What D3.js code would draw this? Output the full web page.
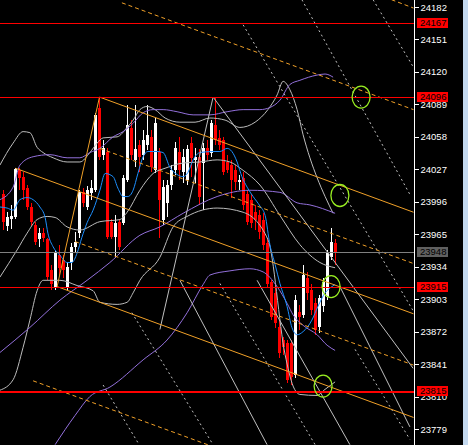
<!DOCTYPE html>
<html><head><meta charset="utf-8">
<script src="https://cdn.jsdelivr.net/npm/d3@7"></script>
<style>html,body{margin:0;padding:0;background:#000;overflow:hidden}</style>
</head><body>
<svg id="chart" width="468" height="445"></svg>
<script>
// OHLC bars, oldest first
const opens  = [24003,23973,23980,23981,24026,24020,24009,23991,23974,23960,23966,23960,23931,23915,23945,23940,23915,23938,23953,23966,
                24005,23991,24004,24007,24086,24041,24044,23977,23962,23977,23976,24017,24066,24036,24050,24041,24050,24058,24026,24044,
                23979,23995,24012,24026,24044,24024,24017,24052,24036,24039,24033,24047,24043,24069,24057,24055,24034,24031,24026,24015,
                24019,24003,23998,23986,23983,23979,23957,23919,23909,23876,23864,23861,23861,23831,23891,23888,23923,23912,23899,23876,
                23896,23905,23943,23957];
const highs  = [24007,23986,23993,24028,24028,24024,24012,23995,23977,23971,23971,23961,23936,23950,23955,23945,23938,23957,23967,24007,
                24009,24011,24017,24081,24096,24055,24047,23980,23983,23980,24022,24088,24074,24088,24055,24065,24088,24065,24076,24047,
                24017,24017,24031,24053,24058,24046,24050,24058,24047,24046,24052,24055,24074,24096,24065,24058,24041,24036,24031,24022,
                24024,24007,24003,23993,23988,23985,23961,23921,23917,23883,23867,23864,23864,23907,23897,23936,23929,23917,23904,23907,
                23923,23950,23971,23960];
const lows   = [23969,23968,23970,23980,24007,23998,23988,23973,23955,23953,23958,23921,23912,23912,23926,23923,23912,23931,23947,23961,
                23991,23988,23998,24005,24036,24036,23960,23960,23942,23950,23974,24015,24036,24029,24024,24036,24045,24024,24023,23961,
                23974,23981,24007,24022,24017,24014,24012,24020,24014,23993,23988,24036,24039,24050,24045,24022,24023,24000,24007,24007,
                23988,23974,23971,23969,23960,23950,23914,23883,23875,23847,23850,23823,23821,23828,23874,23885,23902,23888,23869,23871,
                23891,23902,23940,23936];
const closes = [23977,23981,23982,24027,24019,24007,23991,23977,23958,23966,23961,23924,23917,23947,23933,23931,23934,23953,23958,24005,
                23995,24007,24009,24079,24039,24047,23962,23962,23976,23953,24019,24069,24041,24046,24039,24055,24060,24029,24071,23998,
                24010,24012,24026,24047,24026,24039,24046,24038,24039,24001,24047,24041,24071,24055,24050,24024,24026,24017,24015,24017,
                23993,23977,23976,23979,23967,23955,23917,23886,23880,23852,23857,23826,23829,23902,23886,23926,23909,23893,23874,23904,
                23919,23947,23958,23948];

// price axis ticks
const tickLabels = [24182,24151,24120,24089,24058,24027,23996,23965,23934,23903,23872,23841,23810,23779];
// horizontal price levels
const levelPrices = [24167,24096,23915,23815];

// indicator curves as [bar, price]
const fastMA = [[-0.9,23991],[0.9,23990],[2.4,23988],[4.1,23998],[5.9,24000],[7.4,23998],[9.1,23991],[10.4,23981],[11.1,23966],
  [12.4,23953],[14.1,23945],[15.9,23938],[17.1,23938],[18.4,23947],[19.6,23962],[20.9,23976],[22.4,23988],[24.1,24007],[25.4,24023],
  [27.4,24020],[28.6,24009],[29.9,24001],[31.1,24001],[32.4,24007],[33.6,24023],[34.9,24039],[36.1,24044],[38.4,24044],[39.9,24043],
  [41.6,24029],[43.4,24022],[44.9,24020],[46.1,24024],[47.4,24036],[49.1,24043],[52.4,24044],[54.1,24044],[55.9,24047],[57.1,24044],
  [58.4,24034],[59.6,24020],[60.9,24010],[62.4,24001],[64.1,23992],[65.4,23983],[66.6,23955],[67.9,23936],[69.1,23918],[70.9,23896],
  [72.1,23876],[73.4,23869],[74.9,23872],[77.1,23883],[78.6,23896],[80.4,23909],[82.1,23915],[82.9,23917]];
const envUpper = [[-0.9,23998],[2.4,24010],[4.1,24031],[7.4,24039],[11.6,24041],[15.9,24038],[19.1,24038],[21.6,24043],[24.1,24047],
  [27.4,24058],[29.9,24063],[32.4,24071],[34.9,24081],[37.4,24084],[39.9,24084],[43.4,24082],[47.4,24079],[51.6,24079],[55.9,24082],
  [59.9,24084],[64.1,24084],[66.6,24086],[69.1,24093],[71.6,24108],[74.1,24112],[78.4,24117],[80.4,24118],[82.4,24115]];
const envMiddle = [[-0.9,23852],[6.6,23876],[14.1,23902],[20.9,23921],[26.6,23938],[34.1,23964],[39.1,23972],[44.9,23985],[53.4,24001],
  [61.6,24007],[69.1,24005],[73.4,23995],[76.6,23993],[82.9,23985]];
const envLower = [[12.9,23764],[17.9,23792],[21.6,23810],[26.6,23819],[34.9,23845],[40.9,23864],[45.9,23890],[49.9,23917],[51.6,23926],
  [56.6,23930],[61.6,23932],[64.9,23929],[68.4,23915],[70.9,23899],[72.4,23888],[74.9,23878],[78.4,23869],[80.9,23859],[82.9,23854]];
const bandUpper = [[-0.9,24031],[2.4,24052],[4.9,24063],[6.6,24062],[8.4,24048],[9.9,24043],[12.4,24038],[15.9,24034],[19.1,24034],
  [21.6,24043],[23.4,24052],[24.9,24057],[28.4,24058],[30.9,24067],[32.4,24074],[34.1,24084],[35.9,24087],[37.9,24084],[40.4,24076],
  [44.1,24072],[47.9,24072],[51.6,24076],[55.4,24074],[59.1,24067],[62.9,24072],[66.1,24084],[68.4,24098],[69.9,24111],[71.6,24103],
  [73.4,24084],[74.9,24060],[76.6,24038],[78.4,24019],[80.4,24001],[82.4,23985]];
const bandMiddle = [[-0.9,23924],[3.4,23950],[5.9,23966],[8.4,23979],[10.9,23982],[12.9,23981],[15.9,23972],[19.1,23969],[24.1,23977],
  [29.1,23979],[30.9,23986],[34.1,24007],[37.4,24023],[40.4,24028],[44.9,24033],[49.1,24034],[53.4,24036],[56.6,24034],[59.9,24026],
  [64.1,24012],[69.1,23983],[74.1,23955],[79.1,23938],[82.9,23933]];
const bandLower = [[-0.9,23816],[2.4,23826],[4.9,23857],[6.6,23883],[8.4,23911],[9.9,23921],[14.1,23921],[18.4,23916],[22.4,23911],
  [24.1,23900],[28.4,23898],[30.9,23900],[32.4,23909],[34.1,23921],[39.1,23943],[42.4,23972],[45.9,23982],[53.4,23990],[59.9,23986],
  [66.1,23960],[70.4,23850],[72.4,23820],[74.1,23812],[78.4,23811],[80.1,23816],[82.9,23824]];

// channel lines: [bar1, price1, bar2, price2]
const channelSolid  = [[24,24096,102.5,23986],[3,24028,102.5,23889],[13.4,23915,102.5,23790],[13.4,23915,24,24096]];
const channelDashed = [[97,24189,102.5,24181],[29.6,24186,102.5,24084],[24.1,24047,102.5,23937],[17.9,23958,102.5,23840],[7.4,23825,102.5,23692]];
// fan / angle lines
const fanSolid  = [[44.1,23921,65.9,23764],[63.4,23921,86.6,23764],[84.1,23915,101.6,23781],[52.4,24096,39.1,23874],[52.4,24096,102.4,23837]];
const fanDashed = [[59.9,24165,102.4,23892],[74.6,24189,101.6,24003],[92.4,24189,102.4,24125],[32.1,23890,52.4,23764],
                   [24.9,23821,33.6,23766],[54.1,23918,77.9,23764],[87.9,23855,101.6,23769]];
// marked points: [bar, price]
const markers = [[89.4,24096],[84.1,24002],[81.9,23915],[79.9,23820]];

const W = 468, H = 445, plotRight = 414;
const svg = d3.select('#chart');
svg.append('rect').attr('width', W).attr('height', H).attr('fill', '#000');
svg.append('rect').attr('x', 463).attr('width', 5).attr('height', H).attr('fill', '#c4d9ef');

const x = d3.scaleLinear().domain([0, 83]).range([3.5, 335.5]);
const y = d3.scaleLinear().domain([23763.7, 24188.7]).range([H, 0]);

svg.append('defs').append('clipPath').attr('id', 'plotclip')
  .append('rect').attr('x', 0).attr('y', 0).attr('width', plotRight).attr('height', H);
const plot = svg.append('g').attr('clip-path', 'url(#plotclip)');

const line = d3.line().x(d => x(d[0])).y(d => y(d[1])).curve(d3.curveMonotoneX);
function curve(data, color) {
  plot.append('path').datum(data).attr('d', line).attr('fill', 'none')
    .attr('stroke', color).attr('stroke-width', 1);
}
function segs(data, color, dash) {
  plot.append('g').selectAll('line').data(data).join('line')
    .attr('x1', d => x(d[0])).attr('y1', d => y(d[1]))
    .attr('x2', d => x(d[2])).attr('y2', d => y(d[3]))
    .attr('stroke', color).attr('stroke-width', 1)
    .attr('stroke-dasharray', dash || null);
}

// candles
const idx = d3.range(opens.length);
const colorOf = i => closes[i] >= opens[i] ? '#ffffff' : '#ff0000';
plot.append('g').attr('shape-rendering', 'crispEdges').selectAll('line').data(idx).join('line')
  .attr('x1', i => x(i)).attr('x2', i => x(i))
  .attr('y1', i => y(highs[i])).attr('y2', i => y(lows[i]))
  .attr('stroke', colorOf).attr('stroke-width', 1);
plot.append('g').attr('shape-rendering', 'crispEdges').selectAll('rect').data(idx).join('rect')
  .attr('x', i => x(i) - 1.5).attr('width', 3)
  .attr('y', i => y(Math.max(opens[i], closes[i])))
  .attr('height', i => Math.max(1, Math.abs(y(opens[i]) - y(closes[i]))))
  .attr('fill', colorOf);

// indicators
curve(bandUpper, '#bdbdbd');
curve(bandMiddle, '#bdbdbd');
curve(bandLower, '#bdbdbd');
curve(envUpper, '#9370db');
curve(envMiddle, '#9370db');
curve(envLower, '#9370db');
curve(fastMA, '#1e90ff');

// drawn objects
segs(fanSolid, '#c0c0c0');
segs(fanDashed, '#c0c0c0', '2,3');
segs(channelSolid, '#f0a028');
segs(channelDashed, '#f0a028', '4,3');

const levels = plot.append('g').attr('shape-rendering', 'crispEdges');
levels.selectAll('line').data(levelPrices).join('line')
  .attr('x1', 0).attr('x2', plotRight).attr('y1', d => Math.round(y(d)) + 0.5).attr('y2', d => Math.round(y(d)) + 0.5)
  .attr('stroke', '#ff0000').attr('stroke-width', (d, i) => i === levelPrices.length - 1 ? 2 : 1);
const lastClose = closes[closes.length - 1];
levels.append('line').attr('x1', 0).attr('x2', plotRight)
  .attr('y1', Math.round(y(lastClose)) + 0.5).attr('y2', Math.round(y(lastClose)) + 0.5)
  .attr('stroke', '#808080').attr('stroke-width', 1);

plot.append('g').selectAll('ellipse').data(markers).join('ellipse')
  .attr('cx', d => x(d[0])).attr('cy', d => y(d[1]))
  .attr('rx', 9).attr('ry', 11).attr('fill', 'none')
  .attr('stroke', '#99ee22').attr('stroke-width', 1.3);

// price axis
const axis = svg.append('g').attr('transform', `translate(${plotRight + 0.5},0)`)
  .call(d3.axisRight(y).tickValues(tickLabels).tickSize(4).tickPadding(2).tickFormat(d3.format('d')));
axis.attr('shape-rendering', 'crispEdges');
axis.select('.domain').attr('stroke', '#fff').attr('d', `M0,0V${H}`);
axis.selectAll('.tick line').attr('stroke', '#fff');
axis.selectAll('.tick text').attr('fill', '#fff')
  .style('font-family', '"Liberation Sans", Arial, sans-serif').style('font-size', '9.5px');

// level tags
const tags = levelPrices.map(p => ({p, fill: '#ff0000'})).concat([{p: lastClose, fill: '#606060'}]);
const tag = svg.append('g').selectAll('g').data(tags).join('g')
  .attr('transform', d => `translate(417,${Math.round(y(d.p))})`);
tag.append('rect').attr('x', 0).attr('y', -5).attr('width', 31).attr('height', 10).attr('fill', d => d.fill)
  .attr('shape-rendering', 'crispEdges');
tag.append('text').attr('x', 3).attr('y', 0).attr('dy', '0.35em').text(d => d.p)
  .attr('fill', '#000').style('font-family', '"Liberation Sans", Arial, sans-serif').style('font-size', '9.5px');
</script>
</body></html>
